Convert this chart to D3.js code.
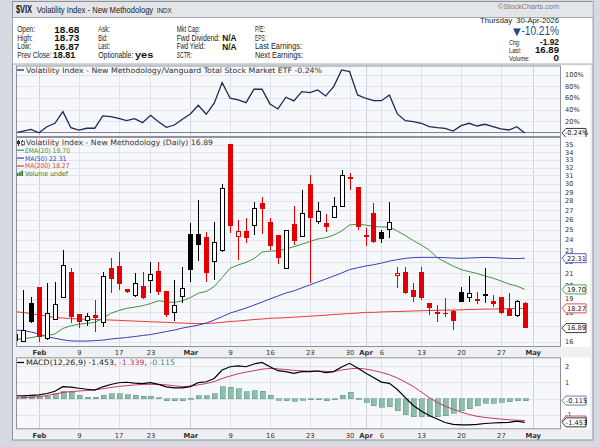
<!doctype html>
<html>
<head>
<meta charset='utf-8'>
<style>
body { margin:0; background:#d6d9df; }
svg { display:block; }
</style>
</head>
<body>
<div id='chart'></div>
<script src='https://cdn.jsdelivr.net/npm/d3@7/dist/d3.min.js'></script>
<script>

// trading days shown (Jan 28 is cut by the left edge)
const dates = ['Jan 28','Jan 29','Jan 30',
  'Feb 2','Feb 3','Feb 4','Feb 5','Feb 6','Feb 9','Feb 10','Feb 11','Feb 12','Feb 13',
  'Feb 17','Feb 18','Feb 19','Feb 20','Feb 23','Feb 24','Feb 25','Feb 26','Feb 27',
  'Mar 2','Mar 3','Mar 4','Mar 5','Mar 6','Mar 9','Mar 10','Mar 11','Mar 12','Mar 13',
  'Mar 16','Mar 17','Mar 18','Mar 19','Mar 20','Mar 23','Mar 24','Mar 25','Mar 26','Mar 27',
  'Mar 30','Mar 31','Apr 1','Apr 2','Apr 6','Apr 7','Apr 8','Apr 9','Apr 10',
  'Apr 13','Apr 14','Apr 15','Apr 16','Apr 17','Apr 20','Apr 21','Apr 22','Apr 23','Apr 24',
  'Apr 27','Apr 28','Apr 29','Apr 30'];
// empty slots at the right of the chart
const padDates = ['May 1','May 4','May 5','May 6','May 7'];

const opens  = [16.05,16.00,18.64, 19.86,16.21,17.49,19.09,21.14,17.86,17.42,17.79,17.28,21.42,
  21.62,19.70,19.21,19.97,20.39,21.19,19.58,17.95,19.19,
  24.56,24.56,24.30,21.99,23.04,35.14,24.36,24.85,25.38,27.75,
  25.79,24.46,21.42,25.53,24.30,29.97,25.86,25.69,26.18,27.38,
  30.62,29.58,24.30,26.67,24.78,25.02,20.86,21.14,19.65,
  21.14,18.64,17.98,17.97,18.10,19.47,19.09,18.96,19.31,18.83,
  19.09,18.22,17.74,18.68];
const highs  = [16.60,19.65,19.13, 19.90,20.18,20.31,23.04,21.43,17.90,17.91,18.88,21.14,22.30,
  22.89,19.75,21.00,21.14,21.99,21.99,19.60,20.45,21.56,
  25.62,28.12,24.78,25.73,29.93,35.20,25.97,26.20,27.93,28.42,
  26.18,24.50,25.00,27.49,29.26,31.06,27.93,26.59,28.49,31.68,
  31.35,29.60,25.18,27.82,24.95,27.93,21.56,21.56,20.18,
  21.51,18.70,18.51,19.01,18.12,19.91,20.78,19.47,21.48,19.27,
  19.10,19.39,18.88,18.73];
const lows   = [15.90,15.95,17.21, 15.98,16.10,17.44,19.01,17.21,16.87,17.05,16.65,16.98,19.39,
  19.65,19.45,19.13,18.96,19.39,19.27,17.67,17.39,18.64,
  20.31,22.05,20.31,20.45,22.83,24.63,22.14,23.72,24.46,24.52,
  23.04,21.77,21.35,23.51,24.25,20.18,25.53,24.78,26.14,27.30,
  29.26,24.95,23.44,23.70,23.67,24.22,19.78,19.32,18.71,
  18.88,17.79,17.32,17.67,16.76,18.71,18.71,18.58,18.64,18.34,
  17.88,17.70,17.67,16.87];
const closes = [16.45,16.76,17.32, 16.28,17.91,18.56,21.71,17.63,17.28,17.72,17.56,20.72,20.53,
  20.13,19.52,20.13,19.01,20.92,19.47,17.79,18.51,19.78,
  21.28,23.51,21.05,23.72,29.46,25.38,24.85,24.14,27.21,27.13,
  23.44,22.30,24.95,23.91,26.67,26.14,26.84,25.22,27.38,30.98,
  30.75,25.22,24.46,23.76,24.07,25.69,21.00,19.39,19.13,
  19.01,18.27,17.90,17.84,17.37,18.76,19.39,18.83,19.19,18.58,
  17.91,17.72,18.81,16.89];

const ema20 = [16.13,16.19,16.26, 16.36,16.40,16.50,16.87,17.04,17.16,17.21,17.28,17.56,17.91,
  18.11,18.27,18.36,18.46,18.62,18.83,18.76,18.71,18.83,
  19.07,19.41,19.54,19.92,20.65,21.43,21.71,21.94,22.27,22.86,
  22.95,22.98,23.14,23.35,23.58,23.83,24.08,24.20,24.46,24.85,
  25.46,25.53,25.46,25.31,25.26,25.26,24.85,24.41,23.93,
  23.51,23.04,22.36,21.97,21.62,21.32,21.15,20.99,20.78,20.61,
  20.37,20.13,19.97,19.70];
const ma50 = [16.76,16.73,16.63, 16.50,16.33,16.22,16.12,16.05,16.04,16.04,16.07,16.10,16.17,
  16.22,16.27,16.33,16.40,16.46,16.56,16.66,16.76,16.89,
  16.99,17.09,17.23,17.44,17.68,17.93,18.11,18.29,18.51,18.73,
  18.96,19.19,19.42,19.58,19.82,20.05,20.29,20.53,20.78,21.03,
  21.32,21.47,21.62,21.73,21.88,22.05,22.18,22.29,22.36,
  22.38,22.38,22.38,22.35,22.32,22.29,22.32,22.35,22.38,22.36,
  22.32,22.29,22.27,22.31];
const ma200 = [18.03,17.97,17.90, 17.79,17.72,17.61,17.58,17.54,17.51,17.49,17.48,17.46,17.44,
  17.42,17.39,17.37,17.35,17.32,17.30,17.28,17.25,17.23,
  17.21,17.20,17.21,17.23,17.28,17.34,17.37,17.42,17.48,17.51,
  17.56,17.58,17.61,17.64,17.67,17.71,17.74,17.78,17.83,17.86,
  17.90,17.93,17.98,17.98,18.01,18.03,18.04,18.06,18.08,
  18.10,18.11,18.13,18.14,18.15,18.16,18.19,18.20,18.22,18.22,
  18.24,18.25,18.27,18.27];

// VIX relative to Vanguard Total Stock Market ETF, % change
const relPct = [0,3,6, 0,10.5,16.4,36.4,8.8,4.8,7.8,7.8,29,27.8,
  25,20.9,24.3,17.4,30.2,19.1,9.5,13.4,23.3,
  32.4,47.4,31.9,50.9,86.4,59.5,56.6,51.9,75,75,
  49.7,41,61.2,54.8,70.9,69.1,73.8,63.4,79.5,108.3,
  105.3,65.2,59.5,55.3,55.3,65.2,32.4,20.9,19.1,
  16.4,10.5,8.8,7.8,3.1,12.2,16.4,11.7,14.7,10.5,
  6.6,4.8,10.5,-0.24];

const macdLine = [0.17,0.18,0.21, 0.24,0.32,0.46,0.74,0.71,0.64,0.58,0.53,0.73,0.87,
  0.98,1.01,0.96,0.93,0.98,0.88,0.73,0.66,0.66,
  0.74,0.99,1.04,1.24,1.76,1.96,2.01,1.96,2.13,2.23,
  1.96,1.72,1.66,1.56,1.66,1.66,1.70,1.60,1.66,1.94,
  2.17,1.88,1.58,1.30,1.02,0.94,0.56,0.07,-0.42,
  -0.75,-1.03,-1.25,-1.46,-1.58,-1.61,-1.60,-1.57,-1.52,-1.49,
  -1.47,-1.45,-1.38,-1.453];
const macdSignal = [0.02,0.06,0.09, 0.11,0.20,0.29,0.38,0.44,0.47,0.50,0.55,0.61,0.69,
  0.75,0.80,0.84,0.88,0.88,0.88,0.85,0.79,0.74,
  0.77,0.85,0.93,1.05,1.24,1.39,1.53,1.63,1.72,1.81,
  1.86,1.83,1.79,1.74,1.71,1.69,1.70,1.68,1.66,1.76,
  1.83,1.87,1.82,1.73,1.61,1.47,1.27,1.02,0.75,
  0.41,0.07,-0.23,-0.46,-0.65,-0.82,-0.97,-1.08,-1.15,-1.20,
  -1.25,-1.29,-1.32,-1.339];
const macdHist = [0.08,0.14,0.20, 0.14,0.14,0.29,0.45,0.41,0.20,0.10,0.08,0.20,0.31,
  0.31,0.25,0.20,0.14,0.16,0.06,-0.12,-0.14,-0.12,
  0.04,0.18,0.18,0.29,0.72,0.70,0.61,0.43,0.49,0.45,
  0.20,-0.10,-0.12,-0.16,-0.08,-0.06,-0.06,-0.12,-0.04,0.22,
  0.39,0.04,-0.22,-0.43,-0.51,-0.49,-0.74,-0.98,-1.12,
  -1.12,-1.12,-1.12,-1.04,-0.88,-0.74,-0.61,-0.43,-0.29,-0.27,
  -0.22,-0.20,-0.12,-0.115];

const priceTicks = [16,17,18,19,20,21,22,23,24,25,26,27,28,29,30,31,32,33,34,35];
const relTicks = [0,20,40,60,80,100];
const macdTicks = [2,1,0,-1];
const tickDates  = ['Feb 2','Feb 9','Feb 17','Feb 23','Mar 2','Mar 9','Mar 16','Mar 23','Mar 30','Apr 1','Apr 6','Apr 13','Apr 20','Apr 27','May 1'];
const tickLabels = ['Feb','9','17','23','Mar','9','16','23','30','Apr','6','13','20','27','May'];
const monthLabels = ['Feb','Mar','Apr','May'];

const W = 600, H = 447;
const plotL = 16, plotR = 561, axisR = 590;
const relP  = {t:65.5, b:137};
const mainP = {t:137, b:347};
const macdP = {t:357.3, b:429.3};
const SANS = "'Liberation Sans', Arial, sans-serif";
const DJV = "'DejaVu Sans', Verdana, sans-serif";
const RED = '#e40000';

const slots = dates.concat(padDates);
const x = d3.scalePoint().domain(slots).range([15.1, 15.1 + 7.964 * (slots.length - 1)]);
const yPrice = d3.scaleLog().domain([35, 16]).range([145, 341.7]);
const yRel = d3.scaleLinear().domain([0, 100]).range([132.8, 74.7]);
const yMacd = d3.scaleLinear().domain([0, 2]).range([398.7, 366.1]);

const svg = d3.select('#chart').append('svg')
  .attr('width', W).attr('height', H);

// text with a fixed drawn width (the small labels are narrow)
function fitText(xp, yp, txt, len, size, opts) {
  opts = opts || {};
  const t = svg.append('text').attr('x', xp).attr('y', yp)
    .attr('font-family', opts.family || SANS).attr('font-size', size)
    .attr('fill', opts.fill || '#222')
    .attr('textLength', len).attr('lengthAdjust', 'spacingAndGlyphs')
    .text(txt);
  if (opts.bold) t.attr('font-weight', 'bold');
  if (opts.anchor) t.attr('text-anchor', opts.anchor);
  return t;
}

// frame
svg.append('rect').attr('width', W).attr('height', H).attr('fill', '#d6d9df');
svg.append('rect').attr('x', 12.5).attr('y', 1.5).attr('width', 580.5).attr('height', 438.5)
  .attr('fill', '#eff0f3').attr('stroke', '#8f949c');
svg.append('rect').attr('x', 13).attr('y', 2).attr('width', 579.5).attr('height', 15.5)
  .attr('fill', '#e3e5e9');
svg.append('rect').attr('x', 12.5).attr('y', 17.5).attr('width', 580.5).attr('height', 46.5)
  .attr('fill', '#fff').attr('stroke', '#a3a8b0');

// header
fitText(16, 13, '$VIX', 16, 10.5, {bold:true, fill:'#111'});
fitText(36.7, 12.7, 'Volatility Index - New Methodology', 116.5, 8.3);
fitText(156.7, 12.7, 'INDX', 15, 6.8);
fitText(559, 8.5, '\u00a9StockCharts.com', 61, 6.5, {anchor:'end', fill:'#7a7a7a'});

// info box
const infoRows = [32.2, 40.6, 49.4, 57.9];
const infoLabels = [
  ['Open:','High:','Low:','Prev Close:'],
  ['Ask:','Bid:','Last:','Optionable:'],
  ['Mkt Cap:','Fwd Dividend:','Fwd Yield:','SCTR:'],
  ['P/E:','EPS:','Last Earnings:','Next Earnings:']
];
const infoWidths = [[17.7,15.3,13.7,34.3], [11.7,9.3,11.7,35], [23.3,43.3,28.3,15], [10,11,47,48]];
const infoX = [17.3, 98.3, 176.7, 255];
const infoValues = [
  {x:[54.3,54.3,54.3,52.7], vals:['18.68','18.73','16.87','18.81'], w:[25,25,25,22.5]},
  {x:[135,135,135,135], vals:['','','','yes'], w:[0,0,0,18.3]},
  {x:[222.3,222.3,222.3,222.3], vals:['','N/A','N/A',''], w:[0,14.3,14.3,0]}
];
infoLabels.forEach((col, c) => col.forEach((l, i) =>
  fitText(infoX[c], infoRows[i], l, infoWidths[c][i], 8.2)));
infoValues.forEach(col => col.vals.forEach((v, i) => {
  if (v) fitText(col.x[i], infoRows[i] + 0.3, v, col.w[i], 9.6, {bold:true, fill:'#111'});
}));
fitText(559, 22.6, 'Thursday\u00a0\u00a030-Apr-2026', 79, 8, {anchor:'end'});
fitText(559, 35, '-10.21%', 37.5, 12, {anchor:'end', fill:'#24488a'});
svg.append('text').attr('x', 513).attr('y', 34.5).attr('font-family', DJV)
  .attr('font-size', 10).attr('fill', '#24488a').text('\u25BC');
[['Chg:', '-1.92', 44.5, 11.3, 19], ['Last:', '16.89', 53, 12.3, 24], ['Volume:', '0', 61.3, 20.7, 5.5]].forEach(r => {
  fitText(509, r[2], r[0], r[3], 8);
  fitText(559, r[2], r[1], r[4], 9.6, {anchor:'end', bold:true, fill:'#111'});
});

// panels
function panel(p, id) {
  svg.append('rect').attr('x', plotR).attr('y', p.t).attr('width', axisR - plotR).attr('height', p.b - p.t)
    .attr('fill', '#fff');
  svg.append('clipPath').attr('id', id).append('rect')
    .attr('x', plotL).attr('y', p.t).attr('width', plotR - plotL).attr('height', p.b - p.t);
  svg.append('rect').attr('x', plotL).attr('y', p.t).attr('width', plotR - plotL).attr('height', p.b - p.t)
    .attr('fill', '#f7f8fb');
  const g = svg.append('g').attr('clip-path', `url(#${id})`);
  g.selectAll('.vgrid').data(tickDates).enter().append('line')
    .attr('x1', d => Math.round(x(d)) + 0.5).attr('x2', d => Math.round(x(d)) + 0.5)
    .attr('y1', p.t).attr('y2', p.b)
    .attr('stroke', (d, i) => monthLabels.includes(tickLabels[i]) ? '#cfd2d9' : '#e0e2e8');
  return g;
}
function frame(p) {
  svg.append('rect').attr('x', plotL + 0.5).attr('y', p.t + 0.5).attr('width', plotR - plotL - 1)
    .attr('height', p.b - p.t - 1).attr('fill', 'none').attr('stroke', '#8e939b');
}
function hgrid(g, ticks, sc, col) {
  g.selectAll(null).data(ticks).enter().append('line')
    .attr('x1', plotL).attr('x2', plotR)
    .attr('y1', d => Math.round(sc(d)) + 0.5).attr('y2', d => Math.round(sc(d)) + 0.5)
    .attr('stroke', col);
}
function axisLabels(ticks, sc, fmt) {
  svg.selectAll(null).data(ticks).enter().append('text')
    .attr('x', plotR + 4).attr('y', d => sc(d) + 2.4)
    .attr('font-family', DJV).attr('font-size', 6.6).attr('fill', '#333')
    .text(fmt);
}
function marker(y, label, col) {
  const g = svg.append('g');
  g.append('path')
    .attr('d', `M${plotR + 1},${y} L${plotR + 5},${y - 4.5} H${plotR + 25} V${y + 4.5} H${plotR + 5} Z`)
    .attr('fill', '#fff').attr('stroke', col).attr('stroke-width', 0.9);
  g.append('text').attr('x', plotR + 15.5).attr('y', y + 2.4).attr('text-anchor', 'middle')
    .attr('font-family', DJV).attr('font-size', 6.6).attr('fill', '#111').text(label);
}
function dateLabels(yb) {
  svg.selectAll(null).data(tickDates).enter().append('text')
    .attr('x', d => x(d) + 0.5).attr('y', yb).attr('text-anchor', 'middle')
    .attr('font-family', DJV).attr('font-size', 6.8)
    .attr('font-weight', (d, i) => monthLabels.includes(tickLabels[i]) ? 'bold' : 'normal')
    .attr('fill', '#333')
    .text((d, i) => tickLabels[i]);
}
function legendText(xp, yp, txt, len, size, col) {
  return fitText(xp, yp, txt, len, size, {family:DJV, fill:col});
}

// ---- relative strength panel
const gRel = panel(relP, 'clipRel');
hgrid(gRel, relTicks.slice(1), yRel, '#e3e5ea');
gRel.append('line').attr('x1', plotL).attr('x2', plotR).attr('y1', 132.5).attr('y2', 132.5)
  .attr('stroke', '#7d828b');
gRel.append('path').datum(relPct)
  .attr('d', d3.line().x((d, i) => x(dates[i])).y(d => yRel(d)))
  .attr('fill', 'none').attr('stroke', '#1d2a58').attr('stroke-width', 1.3);
frame(relP);
axisLabels(relTicks.slice(1), yRel, d => d + '%');
marker(yRel(-0.24), '-0.24%', '#222');
svg.append('line').attr('x1', 17).attr('x2', 24).attr('y1', 70).attr('y2', 70)
  .attr('stroke', '#1d2a58').attr('stroke-width', 1.3);
legendText(26, 72.6, 'Volatility Index - New Methodology/Vanguard Total Stock Market ETF -0.24%', 296, 7.4, '#333');

// ---- price panel
const gMain = panel(mainP, 'clipMain');
hgrid(gMain, priceTicks, yPrice, '#e3e5ea');
const maLine = arr => d3.line().x((d, i) => x(dates[i])).y(d => yPrice(d))(arr);
gMain.append('path').attr('d', maLine(ma200)).attr('fill', 'none').attr('stroke', '#e8383a').attr('stroke-width', 1);
gMain.append('path').attr('d', maLine(ma50)).attr('fill', 'none').attr('stroke', '#3c3cb4').attr('stroke-width', 1);
gMain.append('path').attr('d', maLine(ema20)).attr('fill', 'none').attr('stroke', '#3c963c').attr('stroke-width', 1);

const bars = dates.map((d, i) => ({
  d, o: opens[i], h: highs[i], l: lows[i], c: closes[i],
  col: (i > 0 && closes[i] < closes[i - 1]) ? RED : '#000',
  hollow: closes[i] > opens[i]
}));
const cg = gMain.selectAll('.candle').data(bars).enter().append('g')
  .attr('shape-rendering', 'crispEdges');
cg.append('line')
  .attr('x1', b => Math.round(x(b.d)) + 0.5).attr('x2', b => Math.round(x(b.d)) + 0.5)
  .attr('y1', b => yPrice(b.h)).attr('y2', b => yPrice(b.l))
  .attr('stroke', b => b.col);
cg.append('rect')
  .attr('x', b => Math.round(x(b.d)) - (b.hollow ? 1.5 : 2))
  .attr('width', b => b.hollow ? 4 : 5)
  .attr('y', b => yPrice(Math.max(b.o, b.c)))
  .attr('height', b => Math.max(1.2, yPrice(Math.min(b.o, b.c)) - yPrice(Math.max(b.o, b.c))))
  .attr('fill', b => b.hollow ? '#fff' : b.col)
  .attr('stroke', b => b.hollow ? b.col : 'none');
frame(mainP);
axisLabels(priceTicks, yPrice, d => d);
marker(yPrice(22.31), '22.31', '#4b4bc0');
marker(yPrice(19.70), '19.70', '#3c963c');
marker(yPrice(18.27), '18.27', '#e8383a');
marker(yPrice(16.89), '16.89', '#222');
dateLabels(354.8);

// legend
const ic = svg.append('g').attr('shape-rendering', 'crispEdges');
ic.append('line').attr('x1', 18.5).attr('x2', 18.5).attr('y1', 139.5).attr('y2', 145.5).attr('stroke', '#333');
ic.append('rect').attr('x', 17).attr('y', 140.5).attr('width', 3).attr('height', 3).attr('fill', '#333');
ic.append('line').attr('x1', 22.5).attr('x2', 22.5).attr('y1', 140).attr('y2', 146).attr('stroke', '#333');
ic.append('rect').attr('x', 21.5).attr('y', 141.5).attr('width', 2.5).attr('height', 3).attr('fill', '#fff').attr('stroke', '#333').attr('stroke-width', 0.7);
legendText(26, 144.9, 'Volatility Index - New Methodology (Daily) 16.89', 187, 7.4, '#333');
[['EMA(20) 19.70', '#3c963c', 152.6, 45], ['MA(50) 22.31', '#3c3cb4', 160.5, 41.5], ['MA(200) 18.27', '#e8383a', 168.4, 44.5]]
  .forEach(r => {
    svg.append('line').attr('x1', 17).attr('x2', 24).attr('y1', r[2] - 2.4).attr('y2', r[2] - 2.4)
      .attr('stroke', r[1]).attr('stroke-width', 1.2);
    legendText(25, r[2], r[0], r[3], 6.7, r[1]);
  });
[0, 1, 2].forEach(k => {
  svg.append('rect').attr('x', 17 + k * 2.2).attr('y', 173 - k * 1.2).attr('width', 1.6)
    .attr('height', 3 + k * 1.2).attr('fill', '#2f7a2f');
});
legendText(25, 176.3, 'Volume undef', 43, 6.7, '#2f7a2f');

// ---- MACD panel
const gMacd = panel(macdP, 'clipMacd');
hgrid(gMacd, macdTicks, yMacd, '#e3e5ea');
gMacd.selectAll('.hist').data(macdHist).enter().append('rect')
  .attr('shape-rendering', 'crispEdges')
  .attr('x', (d, i) => Math.round(x(dates[i])) - 2)
  .attr('width', 5)
  .attr('y', d => yMacd(Math.max(0, d)))
  .attr('height', d => Math.max(1, Math.abs(yMacd(d) - yMacd(0))))
  .attr('fill', '#8dbfad').attr('stroke', '#5f9886').attr('stroke-width', 0.6);
const mLine = d3.line().x((d, i) => x(dates[i])).y(d => yMacd(d));
gMacd.append('path').datum(macdSignal).attr('d', mLine)
  .attr('fill', 'none').attr('stroke', '#c8385a').attr('stroke-width', 1);
gMacd.append('path').datum(macdLine).attr('d', mLine)
  .attr('fill', 'none').attr('stroke', '#000').attr('stroke-width', 1.2);
frame(macdP);
axisLabels(macdTicks.filter(d => d !== 0), yMacd, d => d);
marker(yMacd(-0.115), '-0.115', '#5a6cb4');
marker(yMacd(-1.339), '-1.339', '#c8385a');
marker(yMacd(-1.453), '-1.453', '#222');
dateLabels(437.6);

svg.append('line').attr('x1', 17).attr('x2', 24).attr('y1', 362.5).attr('y2', 362.5)
  .attr('stroke', '#000').attr('stroke-width', 1.3);
const ml = svg.append('text').attr('x', 26).attr('y', 365).attr('font-family', DJV)
  .attr('font-size', 7.4).attr('textLength', 149).attr('lengthAdjust', 'spacingAndGlyphs');
ml.append('tspan').attr('fill', '#222').text('MACD(12,26,9) -1.453, ');
ml.append('tspan').attr('fill', '#c8385a').text('-1.339');
ml.append('tspan').attr('fill', '#222').text(', ');
ml.append('tspan').attr('fill', '#3d8a78').text('-0.115');

</script>
</body>
</html>
